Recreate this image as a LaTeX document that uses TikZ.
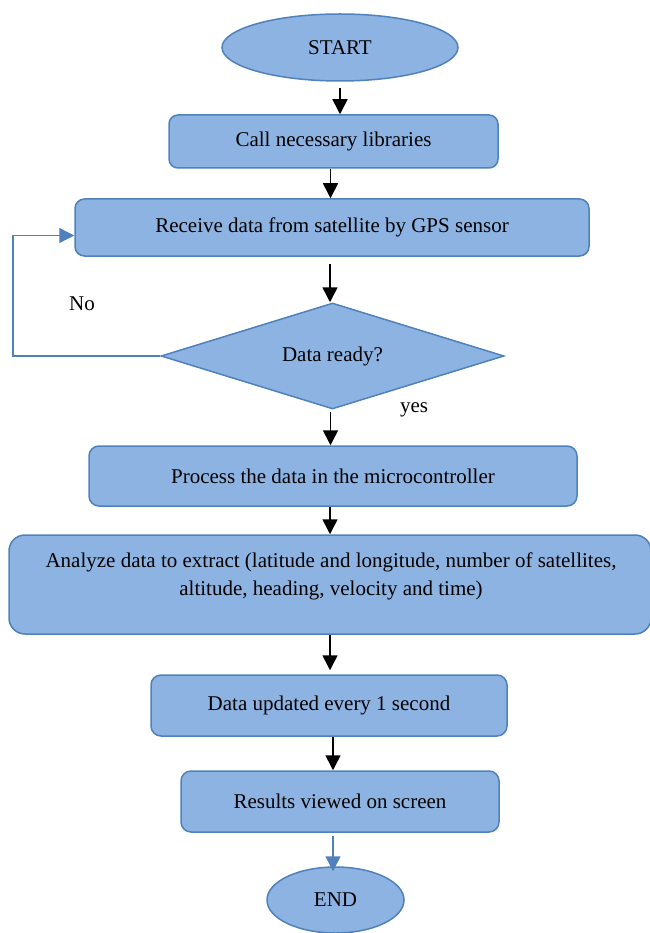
\documentclass[tikz,border=0pt]{standalone}
\usepackage{fontspec}
\setmainfont{Liberation Serif}
\usetikzlibrary{shapes.geometric,arrows.meta}
\definecolor{boxfill}{RGB}{141,179,226}
\definecolor{boxline}{RGB}{79,129,189}
\tikzset{
  base/.style={fill=boxfill,draw=boxline,line width=1.5pt,inner sep=0pt,font=\fontsize{21}{28}\selectfont},
  stepbox/.style={base,rectangle,rounded corners=#1},
  stepbox/.default=9pt,
  oval/.style={base,ellipse},
  decision/.style={base,diamond,shape aspect=3.24},
  arr/.style={-{Triangle[length=15pt,width=15pt]},line width=1.6pt,black},
  barr/.style={-{Triangle[length=15pt,width=15pt]},line width=1.6pt,boxline},
  lbl/.style={font=\fontsize{21}{28}\selectfont,inner sep=0pt}
}
\begin{document}
\begin{tikzpicture}[x=1pt,y=-1pt]
\useasboundingbox (0,0) rectangle (649,933);
\node[oval,minimum width=236,minimum height=67] (start) at (340,47.5) {START};
\node[stepbox=9pt,minimum width=329,minimum height=53] (lib) at (333.5,141.5) {Call necessary libraries};
\node[stepbox=9.5pt,minimum width=514,minimum height=57] (rcv) at (332,227.5) {Receive data from satellite by GPS sensor};
\node[decision,minimum width=343,minimum height=106] (dia) at (332.5,356) {Data ready?};
\node[stepbox=10pt,minimum width=488,minimum height=60] (proc) at (333,476) {Process the data in the microcontroller};
\node[stepbox=16pt,minimum width=642,minimum height=99] (an) at (330,584.5) {};
\node[lbl,align=center] (antext) at (331,576) {Analyze data to extract (latitude and longitude, number of satellites,\\altitude, heading, velocity and time)};
\node[stepbox=10pt,minimum width=356,minimum height=61] (upd) at (329,705.5) {Data updated every 1 second};
\node[stepbox=10pt,minimum width=318,minimum height=61] (res) at (340,801.5) {Results viewed on screen};
\node[oval,minimum width=137,minimum height=66] (fin) at (335.5,900) {END};
\node[lbl] (no) at (82,304) {No};
\node[lbl] (yes) at (414,410) {yes};
\coordinate (lp) at (13,356);
\coordinate (lpin) at ([yshift=-8pt]rcv.west);
% connectors
\draw[arr,shorten <=6pt] (start) -- (start |- lib.north);
\draw[arr] ([xshift=-3pt]lib.south) -- ([xshift=-3pt]lib.south |- rcv.north);
\draw[arr,shorten <=7pt] ([xshift=-2pt]rcv.south) -- ([xshift=-2pt]rcv.south |- dia.north);
\draw[arr,shorten <=2pt] ([xshift=-2pt]dia.south) -- ([xshift=-2pt]dia.south |- proc.north);
\draw[arr] ([xshift=-3pt]proc.south) -- ([xshift=-3pt]proc.south |- an.north);
\draw[arr,shorten >=4pt] (an.south) -- (an.south |- upd.north);
\draw[arr] ([xshift=4pt]upd.south) -- ([xshift=4pt]upd.south |- res.north);
\draw[barr,shorten <=3pt,shorten >=-5pt] ([xshift=-7pt]res.south) -- ([xshift=-7pt]res.south |- fin.north);
\draw[barr,line width=1.4pt] (dia.west) -- (lp) |- (lpin);
\end{tikzpicture}
\end{document}
